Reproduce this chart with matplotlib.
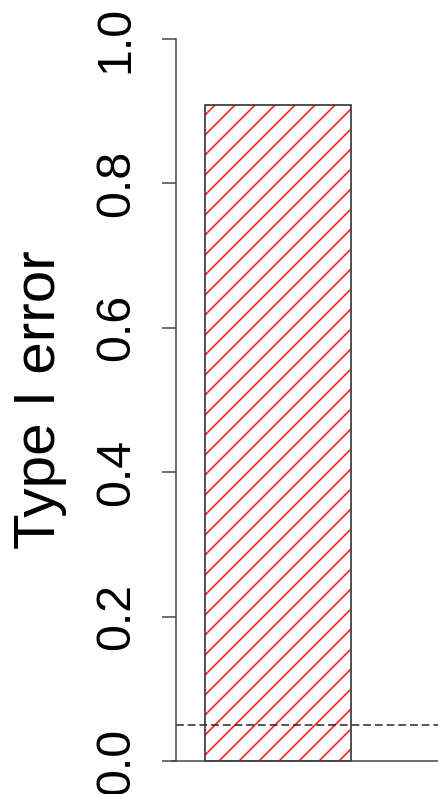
import matplotlib
matplotlib.use('Agg')
import matplotlib.pyplot as plt
import numpy as np

# observed rejection rate and nominal level
type1_error = [0.909]
nominal_alpha = 0.05
bar_positions = [0.7]
yticks = [0.0, 0.2, 0.4, 0.6, 0.8, 1.0]
ytick_labels = ['0.0', '0.2', '0.4', '0.6', '0.8', '1.0']

plt.rcParams['font.family'] = ['Liberation Sans', 'DejaVu Sans']
plt.rcParams['hatch.linewidth'] = 1.0

W, H, DPI = 438, 794, 120
fig = plt.figure(figsize=(W / DPI, H / DPI), dpi=DPI)

# plot region in pixels: y=0 at 761, y=1 at 39; x axis line at 176
y0_px, y1_px = 761, 39
unit = y0_px - y1_px
ylo, yhi = -0.04, 1.04
bottom_px = y0_px - ylo * unit
top_px = y1_px - (yhi - 1) * unit
left_px = 176
ax = fig.add_axes([left_px / W, (H - bottom_px) / H,
                   (W - left_px) / W, (bottom_px - top_px) / H])
ax.set_ylim(ylo, yhi)
ax.set_xlim(0, (W - left_px) / 146)

# hatched fill, then the outline on top
ax.bar(bar_positions, type1_error, width=1.0, color='none',
       edgecolor='#ff2020', hatch='//', linewidth=0)
ax.bar(bar_positions, type1_error, width=1.0, fill=False,
       edgecolor='#333333', linewidth=1.0)

ax.axhline(0, xmin=-4 / (W - left_px), xmax=1, color='#444444',
           linewidth=0.9, clip_on=False)
ax.axhline(nominal_alpha, color='#222222', linewidth=0.9,
           dashes=(5.2, 2.6))

for side in ['top', 'right', 'bottom']:
    ax.spines[side].set_visible(False)
ax.spines['left'].set_bounds(0, 1)
ax.spines['left'].set_color('#444444')
ax.spines['left'].set_linewidth(0.9)

ax.set_xticks([])
ax.set_yticks(yticks)
ax.set_yticklabels(ytick_labels, rotation=90, va='center')
ax.tick_params(axis='y', length=8.4, width=0.9, color='#444444',
               labelsize=29, pad=14)

fig.text(40 / W, 1 - 400 / H, 'Type I error', rotation=90,
         ha='center', va='center', fontsize=35)

fig.savefig('out.png', dpi=DPI)
